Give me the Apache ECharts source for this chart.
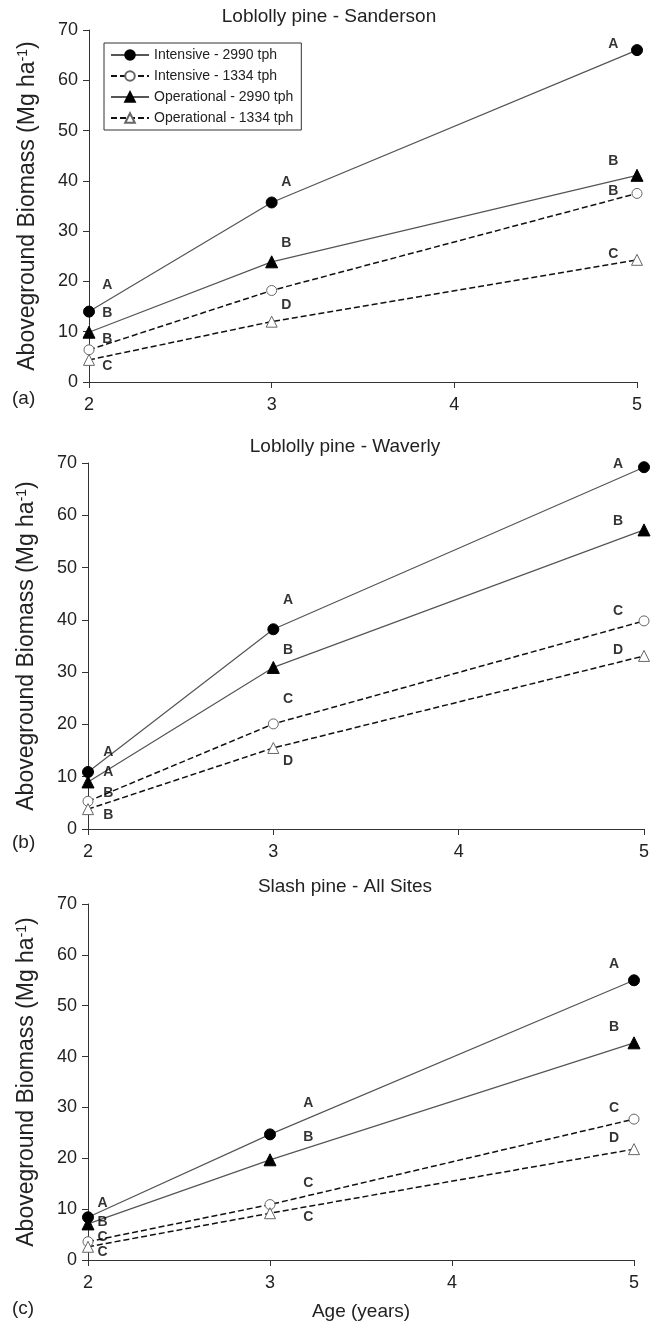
<!DOCTYPE html>
<html>
<head>
<meta charset="utf-8">
<script src="https://cdn.jsdelivr.net/npm/echarts@6/dist/echarts.min.js"></script>
<style>
html,body{margin:0;padding:0;background:#fff;}
#chart{width:661px;height:1324px;}
</style>
</head>
<body>
<div id="chart"></div>
<script>
// ---- data ----
const ages = [2, 3, 5];
const seriesNames = ['Intensive - 2990 tph', 'Intensive - 1334 tph', 'Operational - 2990 tph', 'Operational - 1334 tph'];
const panelTitles = ['Loblolly pine - Sanderson', 'Loblolly pine - Waverly', 'Slash pine - All Sites'];
const panelTags = ['(a)', '(b)', '(c)'];
const yTicks = [0, 10, 20, 30, 40, 50, 60, 70];
const xTicks = [2, 3, 4, 5];

// Panel (a) Loblolly pine - Sanderson
const aInt2990 = [14.0, 35.7, 66.0];
const aInt1334 = [6.4, 18.2, 37.5];
const aOp2990 = [9.9, 23.9, 41.1];
const aOp1334 = [4.4, 12.0, 24.3];
const aLetters = [[2.1,19.2,'A'],[2.1,13.7,'B'],[2.1,8.5,'B'],[2.1,3.2,'C'],
  [3.08,39.8,'A'],[3.08,27.6,'B'],[3.08,15.3,'D'],
  [4.87,67.2,'A'],[4.87,43.9,'B'],[4.87,38.0,'B'],[4.87,25.4,'C']];

// Panel (b) Loblolly pine - Waverly
const bInt2990 = [10.9, 38.2, 69.2];
const bInt1334 = [5.3, 20.1, 39.8];
const bOp2990 = [9.0, 30.9, 57.2];
const bOp1334 = [3.8, 15.5, 33.1];
const bLetters = [[2.11,14.7,'A'],[2.11,10.9,'A'],[2.11,6.9,'B'],[2.11,2.7,'B'],
  [3.08,43.8,'A'],[3.08,34.2,'B'],[3.08,24.9,'C'],[3.08,12.9,'D'],
  [4.86,69.8,'A'],[4.86,58.8,'B'],[4.86,41.7,'C'],[4.86,34.2,'D']];

// Panel (c) Slash pine - All Sites
const cInt2990 = [8.4, 24.7, 55.0];
const cInt1334 = [3.6, 10.9, 27.7];
const cOp2990 = [7.1, 19.7, 42.7];
const cOp1334 = [2.6, 9.2, 21.8];
const cLetters = [[2.08,11.2,'A'],[2.08,7.4,'B'],[2.08,4.5,'C'],[2.08,1.6,'C'],
  [3.21,30.9,'A'],[3.21,24.1,'B'],[3.21,15.2,'C'],[3.21,8.4,'C'],
  [4.89,58.1,'A'],[4.89,45.8,'B'],[4.89,29.9,'C'],[4.89,23.9,'D']];

// ---- build ----
const FONT = 'Liberation Sans, Arial, sans-serif';
const panels = [
  {vals:[aInt2990,aInt1334,aOp2990,aOp1334], letters:aLetters},
  {vals:[bInt2990,bInt1334,bOp2990,bOp1334], letters:bLetters},
  {vals:[cInt2990,cInt1334,cOp2990,cOp1334], letters:cLetters}
];
const grids = [
  {left:89, top:30, width:548, height:352},
  {left:88, top:463, width:556, height:366},
  {left:88, top:904, width:546, height:356}
];
const styles = [
  {symbol:'circle', size:11, line:{color:'#555', width:1.2, type:'solid'}, item:{color:'#000', borderColor:'#000', borderWidth:1}},
  {symbol:'circle', size:10, line:{color:'#111', width:1.5, type:[6,3]}, item:{color:'#fff', borderColor:'#666', borderWidth:1}},
  {symbol:'triangle', size:12, line:{color:'#555', width:1.2, type:'solid'}, item:{color:'#000', borderColor:'#000', borderWidth:1}},
  {symbol:'triangle', size:11, line:{color:'#111', width:1.5, type:[6,3]}, item:{color:'#fff', borderColor:'#666', borderWidth:1}}
];

const xAxes = [], yAxes = [], series = [];
panels.forEach((p, gi) => {
  xAxes.push({
    type:'value', gridIndex:gi, min:xTicks[0], max:xTicks[xTicks.length-1], interval:1,
    axisLine:{show:true, onZero:false, lineStyle:{color:'#333', width:1}},
    axisTick:{show:true, inside:false, length:6, lineStyle:{color:'#333'}},
    axisLabel:{fontFamily:FONT, fontSize:18, color:'#222', margin:14},
    splitLine:{show:false},
    name: gi === 2 ? 'Age (years)' : '',
    nameLocation:'middle', nameGap:42,
    nameTextStyle:{fontFamily:FONT, fontSize:19, color:'#222'}
  });
  yAxes.push({
    type:'value', gridIndex:gi, min:yTicks[0], max:yTicks[yTicks.length-1], interval:10,
    axisLine:{show:true, onZero:false, lineStyle:{color:'#333', width:1}},
    axisTick:{show:true, inside:false, length:6, lineStyle:{color:'#333'}},
    axisLabel:{fontFamily:FONT, fontSize:18, color:'#222', margin:11},
    splitLine:{show:false},
    name:'Aboveground Biomass (Mg ha{sup|-1})',
    nameLocation:'middle', nameGap:49, nameRotate:90,
    nameTextStyle:{fontFamily:FONT, fontSize:23, color:'#222',
      rich:{sup:{fontFamily:FONT, fontSize:14, color:'#222', verticalAlign:'top', padding:[0,0,10,0]}}}
  });
  p.vals.forEach((v, si) => {
    const st = styles[si];
    series.push({
      name:seriesNames[si], type:'line', xAxisIndex:gi, yAxisIndex:gi,
      data: ages.map((a, i) => [a, v[i]]),
      symbol:st.symbol, symbolSize:st.size, showAllSymbol:true,
      lineStyle:st.line, itemStyle:st.item, z:3, animation:false
    });
  });
  series.push({
    name:'letters'+gi, type:'scatter', xAxisIndex:gi, yAxisIndex:gi,
    data:p.letters, symbolSize:0, silent:true, z:5, animation:false,
    label:{show:true, position:'inside', formatter:q => q.value[2],
      fontFamily:FONT, fontWeight:'bold', fontSize:14, color:'#000'}
  });
});

const titleY = [17, 447, 887];
const titleX = [329, 345, 345];
const tagY = [399, 843, 1309];
const graphic = [];
panelTitles.forEach((t, i) => {
  graphic.push({type:'text', x:titleX[i], y:titleY[i],
    style:{text:t, font:'19px ' + FONT, fill:'#222', textAlign:'center', textVerticalAlign:'middle'}});
  graphic.push({type:'text', x:12, y:tagY[i],
    style:{text:panelTags[i], font:'19px ' + FONT, fill:'#222', textAlign:'left', textVerticalAlign:'middle'}});
});

const chart = echarts.init(document.getElementById('chart'), null, {renderer:'canvas'});
chart.setOption({
  animation:false,
  backgroundColor:'#fff',
  grid:grids,
  xAxis:xAxes,
  yAxis:yAxes,
  legend:{
    data:seriesNames, orient:'vertical', left:104, top:43,
    itemWidth:38, itemHeight:12, itemGap:7,
    padding:[5,8,5,6], borderColor:'#333', borderWidth:1, backgroundColor:'#fff',
    textStyle:{fontFamily:FONT, fontSize:14, color:'#222'},
    selectedMode:false
  },
  series:series,
  graphic:graphic
});
</script>
</body>
</html>
